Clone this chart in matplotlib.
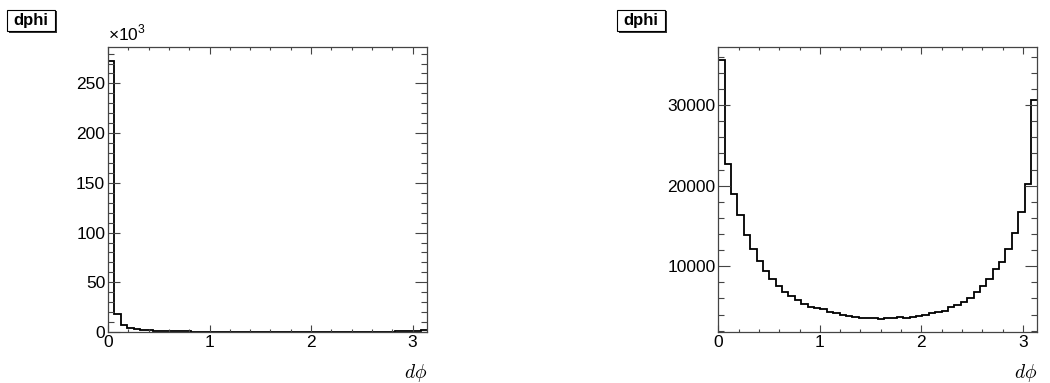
import numpy as np
import matplotlib
matplotlib.use("Agg")
import matplotlib.pyplot as plt
from matplotlib.patches import Rectangle
from matplotlib.ticker import MultipleLocator

plt.rcParams["font.family"] = ["Liberation Sans", "DejaVu Sans"]
plt.rcParams["mathtext.fontset"] = "custom"
plt.rcParams["mathtext.rm"] = "Liberation Sans"

# 50 bins in dphi over [0, pi]
edges = np.linspace(0, np.pi, 51)

# entries per bin, left pad
dphi_left = [273000, 18000, 7500, 4300, 2900, 2200, 1600, 1200, 1000, 800,
             700, 600, 550, 500, 450, 420, 400, 380, 360, 350,
             340, 330, 320, 320, 310, 310, 300, 300, 300, 300,
             300, 300, 310, 310, 320, 320, 330, 340, 350, 360,
             380, 400, 420, 450, 500, 550, 650, 800, 1100, 2400]

# entries per bin, right pad
dphi_right = [35600, 22700, 19000, 16300, 13900, 12150, 10600, 9350, 8450, 7500,
              6850, 6350, 5850, 5350, 4950, 4800, 4650, 4300, 4150, 3950,
              3800, 3700, 3550, 3550, 3550, 3450, 3550, 3600, 3650, 3600,
              3700, 3850, 3950, 4200, 4300, 4500, 4900, 5200, 5600, 6000,
              6800, 7500, 8450, 9650, 10500, 12200, 14100, 16750, 20250, 30650]

W, H = 1050, 383
frame_col = "#444444"


def root_range(vals):
    # same 5% padding that TH1::Draw applies
    lo, hi = min(vals), max(vals)
    m = 0.05 * (hi - lo)
    ymin = lo - m
    if lo >= 0 and ymin < 0:
        ymin = 0
    return ymin, hi + m


def style_axes(ax, ymajor, yminor):
    ax.set_xlim(0, np.pi)
    ax.xaxis.set_major_locator(MultipleLocator(1))
    ax.xaxis.set_minor_locator(MultipleLocator(0.2))
    ax.yaxis.set_major_locator(MultipleLocator(ymajor))
    ax.yaxis.set_minor_locator(MultipleLocator(yminor))
    ax.tick_params(axis="both", which="both", direction="in", top=True,
                   right=True, color=frame_col, width=0.8, labelsize=12.5, pad=2)
    ax.tick_params(axis="x", which="major", length=5)
    ax.tick_params(axis="x", which="minor", length=2.5)
    ax.tick_params(axis="y", which="major", length=8.5)
    ax.tick_params(axis="y", which="minor", length=4.6)
    for s in ax.spines.values():
        s.set_color(frame_col)
        s.set_linewidth(0.9)
    ax.text(1.0, -0.161, r"$d\phi$", transform=ax.transAxes, ha="right",
            va="baseline", fontsize=14, math_fontfamily="cm")


def title_box(fig, x0, x1, y0, y1, text):
    # pave with a small drop shadow, pixel coordinates from top-left
    sh = Rectangle(((x0 + 1.5) / W, 1 - (y1 + 1.5) / H), (x1 - x0) / W, (y1 - y0) / H,
                   transform=fig.transFigure, fc="#333333", ec="none")
    box = Rectangle((x0 / W, 1 - y1 / H), (x1 - x0) / W, (y1 - y0) / H,
                    transform=fig.transFigure, fc="white", ec="black", lw=0.8)
    fig.patches.extend([sh, box])
    fig.text((x0 + x1) / 2 / W, 1 - (y0 + y1) / 2 / H, text, ha="center",
             va="center", fontsize=12, fontweight="bold")


fig = plt.figure(figsize=(W / 100, H / 100), dpi=100)

ax1 = fig.add_axes([108 / W, 1 - 332 / H, 319 / W, 285 / H])
left_k = np.array(dphi_left) / 1000.0
ax1.stairs(left_k, edges, baseline=None, color="black", lw=1.3)
ax1.set_ylim(*root_range(left_k))
style_axes(ax1, 50, 10)
ax1.text(0.0, 1.012, r"×10$^{3}$", transform=ax1.transAxes, ha="left",
         va="bottom", fontsize=12.5)

ax2 = fig.add_axes([718.3 / W, 1 - 332 / H, 319 / W, 285 / H])
ax2.stairs(dphi_right, edges, baseline=None, color="black", lw=1.3)
ax2.set_ylim(*root_range(dphi_right))
style_axes(ax2, 10000, 2000)

title_box(fig, 7, 55, 10, 31, "dphi")
title_box(fig, 617, 665, 10, 31, "dphi")

fig.savefig("out.png", dpi=100)
